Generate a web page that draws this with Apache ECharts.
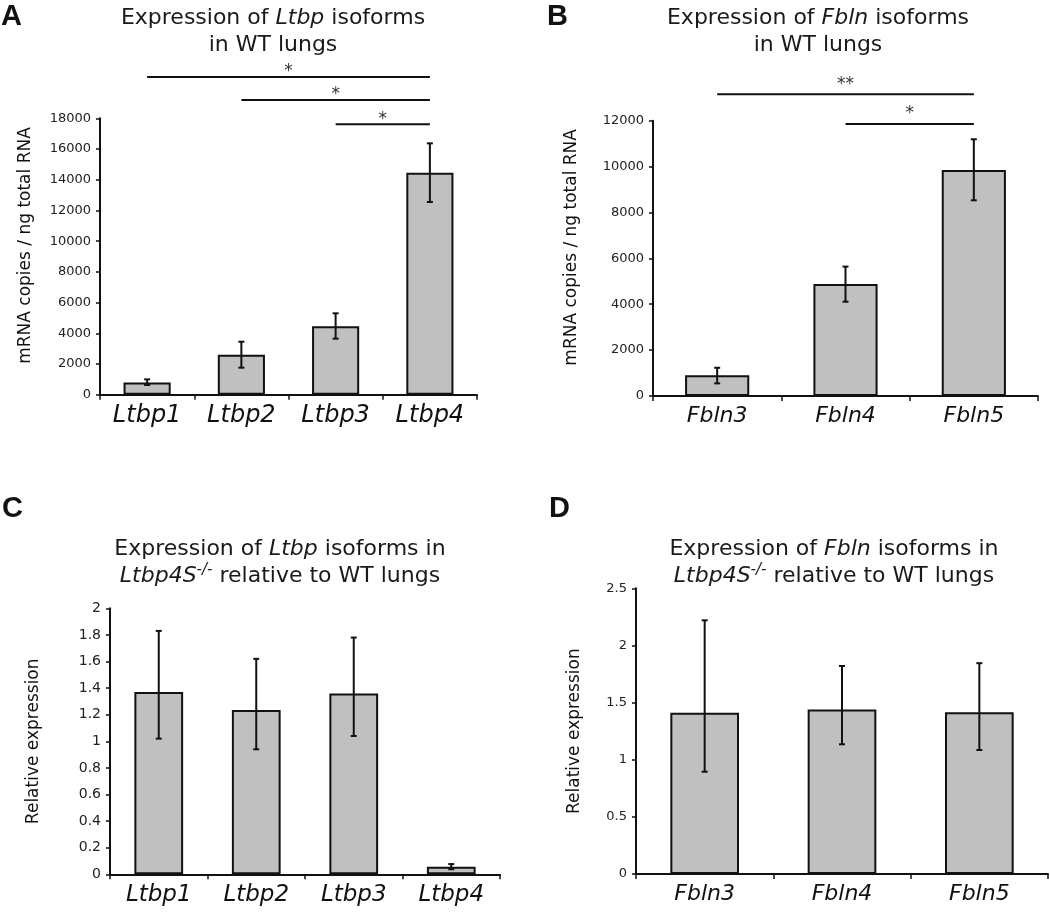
<!DOCTYPE html>
<html><head><meta charset="utf-8">
<script src="https://cdn.jsdelivr.net/npm/echarts@6/dist/echarts.min.js"></script>
<style>html,body{margin:0;padding:0;background:#fff}#chart{width:1050px;height:920px}</style>
</head><body><div id="chart"></div>
<script>
// ---------- data ----------
const ltbpCategories = ['Ltbp1', 'Ltbp2', 'Ltbp3', 'Ltbp4'];
const fblnCategories = ['Fbln3', 'Fbln4', 'Fbln5'];

// Panel A: mRNA copies / ng total RNA (WT lungs)
const aValues  = [800, 2600, 4450, 14450];
const aErrLow  = [630, 1760, 3650, 12550];
const aErrHigh = [1000, 3450, 5300, 16370];

// Panel B
const bValues  = [900, 4880, 9850];
const bErrLow  = [550, 4110, 8530];
const bErrHigh = [1230, 5640, 11190];

// Panel C: relative expression
const cValues  = [1.37, 1.235, 1.36, 0.057];
const cErrLow  = [1.02, 0.94, 1.04, 0.038];
const cErrHigh = [1.83, 1.62, 1.78, 0.077];

// Panel D
const dValues  = [1.41, 1.44, 1.415];
const dErrLow  = [0.895, 1.135, 1.085];
const dErrHigh = [2.22, 1.82, 1.845];

// Significance brackets (category index from -> to, height in data units)
const aSigFrom = [0, 1, 2];
const aSigTo = [3, 3, 3];
const aSigY = [20690, 19190, 17610];
const aSigLabel = ['*', '*', '*'];

const bSigFrom = [0, 1];
const bSigTo = [2, 2];
const bSigY = [13150, 11860];
const bSigLabel = ['**', '*'];

// Axis ranges
const aAxis = { min: 0, max: 18000, interval: 2000 };
const bAxis = { min: 0, max: 12000, interval: 2000 };
const cAxis = { min: 0, max: 2, interval: 0.2 };
const dAxis = { min: 0, max: 2.5, interval: 0.5 };

const yNameMRNA = 'mRNA copies / ng total RNA';
const yNameRel = 'Relative expression';

// ---------- helpers ----------
const FONT = "'DejaVu Sans', Verdana, sans-serif";
const INK = '#111';

const panels = [
  { cats: ltbpCategories, vals: aValues, lo: aErrLow, hi: aErrHigh, axis: aAxis, yName: yNameMRNA,
    grid: { left: 100, top: 118.3, width: 377, height: 276.4 }, nameGap: 66, nameShift: 22, xFont: 24, yFont: 13,
    sig: { from: aSigFrom, to: aSigTo, y: aSigY, label: aSigLabel }, starOffset: 5 },
  { cats: fblnCategories, vals: bValues, lo: bErrLow, hi: bErrHigh, axis: bAxis, yName: yNameMRNA,
    grid: { left: 653, top: 120.7, width: 385, height: 275.3 }, nameGap: 73, nameShift: 22, xFont: 22, yFont: 13,
    sig: { from: bSigFrom, to: bSigTo, y: bSigY, label: bSigLabel }, starOffset: 10 },
  { cats: ltbpCategories, vals: cValues, lo: cErrLow, hi: cErrHigh, axis: cAxis, yName: yNameRel,
    grid: { left: 110, top: 608.3, width: 390, height: 266 }, nameGap: 68, nameShift: 0, xFont: 23, yFont: 14, sig: null },
  { cats: fblnCategories, vals: dValues, lo: dErrLow, hi: dErrHigh, axis: dAxis, yName: yNameRel,
    grid: { left: 636, top: 588.3, width: 412, height: 285.7 }, nameGap: 53, nameShift: 0, xFont: 22, yFont: 13, sig: null }
];

const grids = [], xAxes = [], yAxes = [], series = [];
panels.forEach((p, i) => {
  grids.push(Object.assign({ outerBoundsMode: 'none', containLabel: false }, p.grid));
  xAxes.push({
    type: 'category', gridIndex: i, data: p.cats,
    axisLine: { show: true, lineStyle: { color: INK, width: 2 } },
    axisTick: { show: true, length: 5, lineStyle: { color: INK, width: 1.5 } },
    axisLabel: { color: INK, fontFamily: FONT, fontStyle: 'italic', fontSize: p.xFont, margin: 9 }
  });
  yAxes.push({
    type: 'value', gridIndex: i, min: p.axis.min, max: p.axis.max, interval: p.axis.interval,
    name: p.yName, nameLocation: 'middle', nameGap: p.nameGap,
    nameTextStyle: { color: INK, fontFamily: FONT, fontSize: 17, padding: [0, 0, 0, p.nameShift] },
    axisLine: { show: true, lineStyle: { color: INK, width: 2 } },
    axisTick: { show: true, length: 4, lineStyle: { color: INK, width: 1.5 } },
    splitLine: { show: false },
    axisLabel: { color: '#222', fontFamily: FONT, fontSize: p.yFont, margin: 9,
                 formatter: v => String(Math.round(v * 1000) / 1000) }
  });
  series.push({
    type: 'bar', xAxisIndex: i, yAxisIndex: i, data: p.vals, barWidth: '50%',
    itemStyle: { color: '#c0c0c0', borderColor: INK, borderWidth: 2 }, z: 2
  });
  series.push({
    type: 'custom', xAxisIndex: i, yAxisIndex: i, z: 5,
    data: p.cats.map((c, j) => [j, p.lo[j], p.hi[j]]),
    encode: { x: 0, y: [1, 2] },
    renderItem: (params, api) => {
      const lo = api.coord([api.value(0), api.value(1)]);
      const hi = api.coord([api.value(0), api.value(2)]);
      const cap = 3;
      const st = { stroke: INK, lineWidth: 2 };
      return { type: 'group', children: [
        { type: 'line', shape: { x1: lo[0], y1: lo[1], x2: hi[0], y2: hi[1] }, style: st },
        { type: 'line', shape: { x1: hi[0] - cap, y1: hi[1], x2: hi[0] + cap, y2: hi[1] }, style: st },
        { type: 'line', shape: { x1: lo[0] - cap, y1: lo[1], x2: lo[0] + cap, y2: lo[1] }, style: st }
      ]};
    }
  });
  if (p.sig) {
    const sig = p.sig;
    series.push({
      type: 'custom', xAxisIndex: i, yAxisIndex: i, z: 5, clip: false,
      data: sig.from.map((f, j) => [f, sig.to[j], sig.y[j]]),
      encode: { x: [0, 1], y: 2 },
      renderItem: (params, api) => {
        const a = api.coord([api.value(0), api.value(2)]);
        const b = api.coord([api.value(1), api.value(2)]);
        const mx = (a[0] + b[0]) / 2;
        return { type: 'group', children: [
          { type: 'line', shape: { x1: a[0], y1: a[1], x2: b[0], y2: b[1] }, style: { stroke: INK, lineWidth: 2 } },
          { type: 'text', x: mx, y: a[1] - p.starOffset,
            style: { text: sig.label[params.dataIndex], fontFamily: FONT, fontSize: 17, fill: '#333',
                     align: 'center', verticalAlign: 'middle' } }
        ]};
      }
    });
  }
});

const titleRich = {
  n: { fontFamily: FONT, fontSize: 22, color: '#1a1a1a', lineHeight: 27 },
  i: { fontFamily: FONT, fontSize: 22, color: '#1a1a1a', fontStyle: 'italic', lineHeight: 27 },
  sup: { fontFamily: FONT, fontSize: 15, color: '#1a1a1a', fontStyle: 'italic', lineHeight: 27, padding: [0, 0, 12, 0] }
};
function titleText(x, y, text) {
  return { type: 'text', x: x, y: y, style: { text: text, rich: titleRich, align: 'center', verticalAlign: 'middle', fill: '#1a1a1a' } };
}
function panelLabel(x, y, t) {
  return { type: 'text', x: x, y: y, style: { text: t, fontFamily: "'Liberation Sans', Arial, sans-serif", fontWeight: 'bold', fontSize: 29, fill: '#111', verticalAlign: 'top' } };
}

const chart = echarts.init(document.getElementById('chart'), null, { renderer: 'canvas' });
chart.setOption({
  animation: false,
  backgroundColor: '#fff',
  grid: grids, xAxis: xAxes, yAxis: yAxes, series: series,
  graphic: [
    panelLabel(1, 2, 'A'), panelLabel(547, 2, 'B'), panelLabel(2, 494, 'C'), panelLabel(549, 494, 'D'),
    titleText(273, 31.5, '{n|Expression of }{i|Ltbp}{n| isoforms}\n{n|in WT lungs}'),
    titleText(818, 31.5, '{n|Expression of }{i|Fbln}{n| isoforms}\n{n|in WT lungs}'),
    titleText(280, 562.5, '{n|Expression of }{i|Ltbp}{n| isoforms in}\n{i|Ltbp4S}{sup|-/-}{n| relative to WT lungs}'),
    titleText(834, 562.5, '{n|Expression of }{i|Fbln}{n| isoforms in}\n{i|Ltbp4S}{sup|-/-}{n| relative to WT lungs}')
  ]
});
</script>
</body></html>
